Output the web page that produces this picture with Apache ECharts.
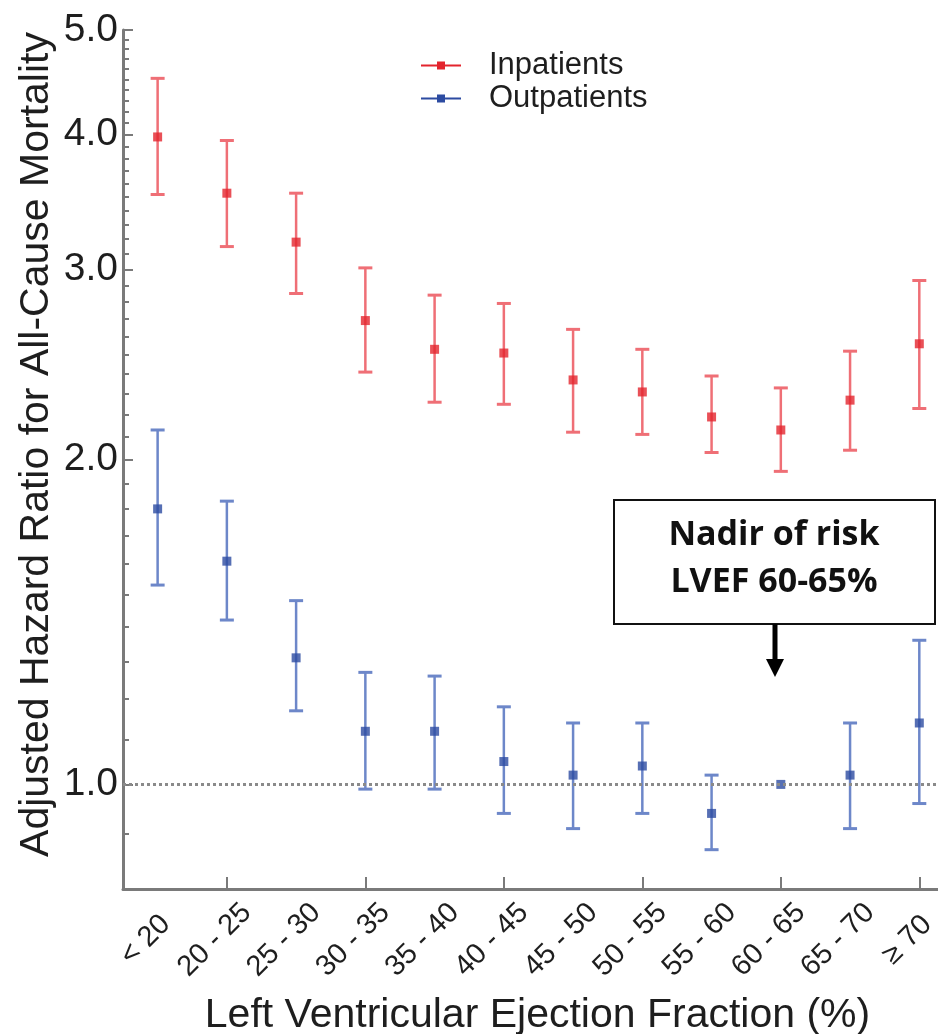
<!DOCTYPE html>
<html>
<head>
<meta charset="utf-8">
<script src="https://cdn.jsdelivr.net/npm/echarts@6/dist/echarts.min.js"></script>
<style>
  html, body { margin: 0; padding: 0; background: #ffffff; }
  #chart { width: 938px; height: 1034px; }
</style>
</head>
<body>
<div id="chart"></div>
<script>
// LVEF bands on the horizontal axis
const categories = ['< 20', '20 - 25', '25 - 30', '30 - 35', '35 - 40', '40 - 45',
                    '45 - 50', '50 - 55', '55 - 60', '60 - 65', '65 - 70', '\u2265 70'];

// Adjusted hazard ratios with 95% confidence limits
const inpatientHR   = [3.98, 3.53, 3.18, 2.69, 2.53, 2.51, 2.37, 2.31, 2.19, 2.13, 2.27, 2.56];
const inpatientLow  = [3.52, 3.15, 2.85, 2.41, 2.26, 2.25, 2.12, 2.11, 2.03, 1.95, 2.04, 2.23];
const inpatientHigh = [4.51, 3.95, 3.53, 3.01, 2.84, 2.79, 2.64, 2.53, 2.39, 2.33, 2.52, 2.93];

const outpatientHR   = [1.80, 1.61, 1.31, 1.12, 1.12, 1.05, 1.02, 1.04, 0.94, 1.00, 1.02, 1.14];
const outpatientLow  = [1.53, 1.42, 1.17, 0.99, 0.99, 0.94, 0.91, 0.94, 0.87, 1.00, 0.91, 0.96];
const outpatientHigh = [2.13, 1.83, 1.48, 1.27, 1.26, 1.18, 1.14, 1.14, 1.02, 1.00, 1.14, 1.36];

// Axis ticks
const yMajorTicks = [1, 2, 3, 4, 5];
const yMinorTicks = [0.8, 0.9, 1.0, 1.1, 1.2, 1.3, 1.4, 1.5, 1.6, 1.7, 1.8, 1.9, 2.0,
                     2.1, 2.2, 2.3, 2.4, 2.5, 2.6, 2.7, 2.8, 2.9, 3.0, 3.1, 3.2, 3.3,
                     3.4, 3.5, 3.6, 3.7, 3.8, 3.9, 4.0, 4.1, 4.2, 4.3, 4.4, 4.5, 4.6,
                     4.7, 4.8, 4.9, 5.0];
const xTickPositions = [2, 4, 6, 8, 10, 12];
const xLabelPositions = [1, 2, 3, 4, 5, 6, 7, 8, 9, 10, 11, 12];

const RED_BAR = '#ef6f76', RED_PT = '#e3242d';
const BLUE_BAR = '#6d87c9', BLUE_PT = '#2c4ba1';
const AXIS_GREY = '#7a7a7a';
const TEXT = '#1e1e1e';
const FONT = 'Liberation Sans, Arial, sans-serif';

function errorBarData(low, high) {
  return categories.map((c, i) => [i + 1, low[i], high[i]]);
}
function pointData(hr) {
  return categories.map((c, i) => [i + 1, hr[i]]);
}

// vertical whisker with a cap at each end
function errorBarRenderer(color) {
  return function (params, api) {
    const x = api.value(0);
    const lo = api.coord([x, api.value(1)]);
    const hi = api.coord([x, api.value(2)]);
    if (Math.abs(lo[1] - hi[1]) < 0.5) return null;
    const half = 7;
    return {
      type: 'group',
      children: [
        { type: 'line', shape: { x1: lo[0], y1: lo[1], x2: hi[0], y2: hi[1] },
          style: { stroke: color, lineWidth: 2.5 } },
        { type: 'line', shape: { x1: lo[0] - half, y1: lo[1], x2: lo[0] + half, y2: lo[1] },
          style: { stroke: color, lineWidth: 3 } },
        { type: 'line', shape: { x1: hi[0] - half, y1: hi[1], x2: hi[0] + half, y2: hi[1] },
          style: { stroke: color, lineWidth: 3 } }
      ]
    };
  };
}

const legendIcon = 'path://M0,4L16,4L16,1L24,1L24,4L40,4L40,6L24,6L24,9L16,9L16,6L0,6Z';

const chart = echarts.init(document.getElementById('chart'), null, { renderer: 'canvas' });

const option = {
  backgroundColor: '#ffffff',
  animation: false,
  textStyle: { fontFamily: FONT },
  grid: { left: 123, right: 0, top: 30, bottom: 145, outerBoundsMode: 'none', containLabel: false },
  legend: {
    orient: 'vertical',
    left: 421,
    top: 50,
    padding: 0,
    itemWidth: 40,
    itemHeight: 10,
    itemGap: 2,
    textStyle: { fontSize: 31, color: TEXT, fontFamily: FONT, padding: [0, 0, 0, 23] },
    data: [
      { name: 'Inpatients', icon: legendIcon, itemStyle: { color: RED_PT } },
      { name: 'Outpatients', icon: legendIcon, itemStyle: { color: BLUE_PT } }
    ]
  },
  xAxis: {
    type: 'value',
    min: 0.5,
    max: 12.27,
    splitLine: { show: false },
    axisLine: { show: true, lineStyle: { color: AXIS_GREY, width: 3 } },
    axisTick: { show: true, inside: true, length: 12, customValues: xTickPositions,
                lineStyle: { color: AXIS_GREY, width: 2 } },
    axisLabel: {
      customValues: xLabelPositions,
      formatter: v => categories[Math.round(v) - 1],
      rotate: 45,
      align: 'center',
      verticalAlign: 'middle',
      padding: [0, 34, 0, 0],
      margin: 39,
      fontSize: 29,
      fontFamily: FONT,
      color: TEXT
    },
    name: 'Left Ventricular Ejection Fraction (%)',
    nameLocation: 'middle',
    nameGap: 106,
    nameMoveOverlap: false,
    nameTextStyle: { fontSize: 41, color: TEXT, fontFamily: FONT, padding: [0, 0, 0, 14] }
  },
  yAxis: [
    {
      type: 'log',
      logBase: 10,
      min: 0.8,
      max: 5,
      position: 'left',
      splitLine: { show: false },
      axisLine: { show: true, lineStyle: { color: AXIS_GREY, width: 3 } },
      axisTick: { show: true, inside: true, length: 10, customValues: yMajorTicks,
                  lineStyle: { color: AXIS_GREY, width: 2 } },
      axisLabel: { customValues: yMajorTicks, formatter: v => Number(v).toFixed(1),
                   fontSize: 39, color: TEXT, fontFamily: FONT, margin: 5 },
      name: 'Adjusted Hazard Ratio for All-Cause Mortality',
      nameLocation: 'middle',
      nameGap: 66,
      nameMoveOverlap: false,
      nameTextStyle: { fontSize: 41, color: TEXT, fontFamily: FONT, padding: [0, 0, 0, 30] }
    },
    {
      type: 'log',
      logBase: 10,
      min: 0.8,
      max: 5,
      position: 'left',
      splitLine: { show: false },
      axisLine: { show: false },
      axisTick: { show: true, inside: true, length: 6, customValues: yMinorTicks,
                  lineStyle: { color: AXIS_GREY, width: 2 } },
      axisLabel: { show: false }
    }
  ],
  series: [
    {
      name: 'Inpatients',
      type: 'custom',
      renderItem: errorBarRenderer(RED_BAR),
      encode: { x: 0, y: [1, 2] },
      data: errorBarData(inpatientLow, inpatientHigh),
      itemStyle: { color: RED_PT },
      z: 3
    },
    {
      name: 'Outpatients',
      type: 'custom',
      renderItem: errorBarRenderer(BLUE_BAR),
      encode: { x: 0, y: [1, 2] },
      data: errorBarData(outpatientLow, outpatientHigh),
      itemStyle: { color: BLUE_PT },
      z: 3,
      markLine: {
        silent: true,
        symbol: 'none',
        label: { show: false },
        lineStyle: { type: [3, 3], color: '#8a8a8a', width: 3 },
        data: [{ yAxis: 1 }]
      }
    },
    {
      name: 'Inpatients',
      type: 'scatter',
      symbol: 'rect',
      symbolSize: 9,
      itemStyle: { color: RED_PT },
      data: pointData(inpatientHR),
      z: 4
    },
    {
      name: 'Outpatients',
      type: 'scatter',
      symbol: 'rect',
      symbolSize: 9,
      itemStyle: { color: BLUE_PT },
      data: pointData(outpatientHR),
      z: 4
    }
  ],
  graphic: [
    {
      type: 'rect',
      shape: { x: 614, y: 500, width: 321, height: 124 },
      style: { fill: '#ffffff', stroke: '#111111', lineWidth: 2 },
      z: 10
    },
    {
      type: 'text',
      x: 774, y: 535,
      style: { text: 'Nadir of risk', fill: '#111111', font: 'bold 34px "Open Sans", sans-serif',
               textAlign: 'center', textVerticalAlign: 'middle' },
      z: 11
    },
    {
      type: 'text',
      x: 774, y: 582,
      style: { text: 'LVEF 60-65%', fill: '#111111', font: 'bold 34px "Open Sans", sans-serif',
               textAlign: 'center', textVerticalAlign: 'middle' },
      z: 11
    },
    {
      type: 'line',
      shape: { x1: 775, y1: 624, x2: 775, y2: 662 },
      style: { stroke: '#000000', lineWidth: 5 },
      z: 10
    },
    {
      type: 'polygon',
      shape: { points: [[766, 659], [784, 659], [775, 677]] },
      style: { fill: '#000000' },
      z: 10
    }
  ]
};

chart.setOption(option);
</script>
</body>
</html>
